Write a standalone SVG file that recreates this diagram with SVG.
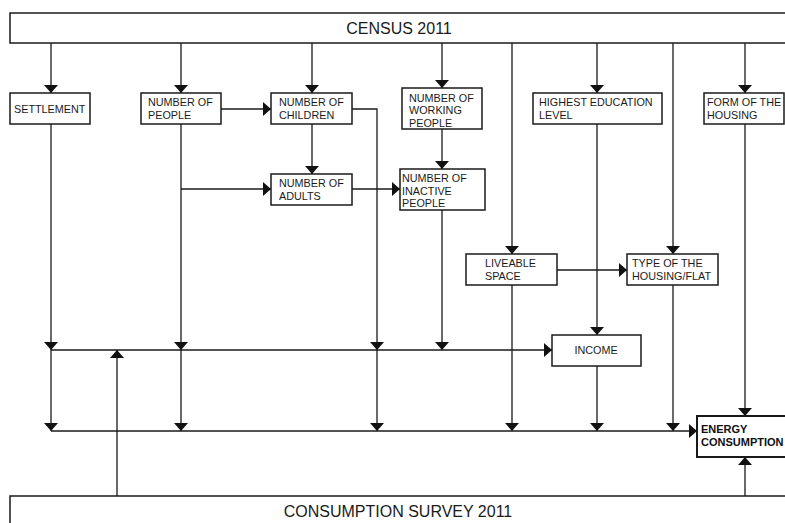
<svg xmlns="http://www.w3.org/2000/svg" width="785" height="523" viewBox="0 0 785 523">
<style>
.box{fill:#fff;stroke:#1a1a1a;stroke-width:1.5}
.bold{stroke-width:2}
.t{font-family:"Liberation Sans",Arial,sans-serif;font-size:10.8px;fill:#1a1a1a}
.tb{font-family:"Liberation Sans",Arial,sans-serif;font-size:11px;font-weight:bold;fill:#111}
.big{font-family:"Liberation Sans",Arial,sans-serif;font-size:16px;fill:#1a1a1a;text-anchor:middle}
.c{fill:none;stroke:#1a1a1a;stroke-width:1.3}
</style>
<defs>
<marker id="a" viewBox="0 0 8 14" refX="8" refY="7" markerWidth="8" markerHeight="14" markerUnits="userSpaceOnUse" orient="auto">
<path d="M0,0L8,7L0,14z" fill="#111"/>
</marker>
</defs>
<rect width="785" height="523" fill="#fff"/>
<g id="connectors">
<path class="c" d="M51,43V93" marker-end="url(#a)"/>
<path class="c" d="M181,43V93" marker-end="url(#a)"/>
<path class="c" d="M312,43V93" marker-end="url(#a)"/>
<path class="c" d="M442,43V88" marker-end="url(#a)"/>
<path class="c" d="M512,43V254" marker-end="url(#a)"/>
<path class="c" d="M597,43V93" marker-end="url(#a)"/>
<path class="c" d="M673,43V254" marker-end="url(#a)"/>
<path class="c" d="M745,43V93" marker-end="url(#a)"/>
<path class="c" d="M221,109H271" marker-end="url(#a)"/>
<path class="c" d="M312,124V174" marker-end="url(#a)"/>
<path class="c" d="M181,124V350" marker-end="url(#a)"/>
<path class="c" d="M181,350V431" marker-end="url(#a)"/>
<path class="c" d="M181,189H271" marker-end="url(#a)"/>
<path class="c" d="M352,189H400" marker-end="url(#a)"/>
<path class="c" d="M442,129V169" marker-end="url(#a)"/>
<path class="c" d="M352,109H377V350" marker-end="url(#a)"/>
<path class="c" d="M377,350V431" marker-end="url(#a)"/>
<path class="c" d="M51,124V350" marker-end="url(#a)"/>
<path class="c" d="M51,350V431" marker-end="url(#a)"/>
<path class="c" d="M442,210V350" marker-end="url(#a)"/>
<path class="c" d="M51,350H552" marker-end="url(#a)"/>
<path class="c" d="M597,124V335" marker-end="url(#a)"/>
<path class="c" d="M557,270H627" marker-end="url(#a)"/>
<path class="c" d="M512,285V431" marker-end="url(#a)"/>
<path class="c" d="M597,366V431" marker-end="url(#a)"/>
<path class="c" d="M673,285V431" marker-end="url(#a)"/>
<path class="c" d="M51,431H697" marker-end="url(#a)"/>
<path class="c" d="M745,124V416" marker-end="url(#a)"/>
<path class="c" d="M117,496V350" marker-end="url(#a)"/>
<path class="c" d="M745,496V457" marker-end="url(#a)"/>
</g>
<g id="census">
<rect class="box" x="10" y="13" width="790" height="30"/>
<text class="big" x="399" y="33.5">CENSUS 2011</text>
</g>
<g id="survey">
<rect class="box" x="10" y="496" width="790" height="40"/>
<text class="big" x="398" y="516.5">CONSUMPTION SURVEY 2011</text>
</g>
<g id="settlement">
<rect class="box" x="10" y="93" width="80" height="31"/>
<text class="t" x="14" y="113">SETTLEMENT</text>
</g>
<g id="people">
<rect class="box" x="141" y="93" width="80" height="31"/>
<text class="t" x="148" y="106">NUMBER OF</text>
<text class="t" x="148" y="119">PEOPLE</text>
</g>
<g id="children">
<rect class="box" x="271" y="93" width="81" height="31"/>
<text class="t" x="279" y="106">NUMBER OF</text>
<text class="t" x="279" y="119">CHILDREN</text>
</g>
<g id="adults">
<rect class="box" x="271" y="174" width="81" height="31"/>
<text class="t" x="279" y="187">NUMBER OF</text>
<text class="t" x="279" y="199.5">ADULTS</text>
</g>
<g id="working">
<rect class="box" x="402" y="88" width="80" height="41"/>
<text class="t" x="409" y="101.5">NUMBER OF</text>
<text class="t" x="409" y="114">WORKING</text>
<text class="t" x="409" y="126.5">PEOPLE</text>
</g>
<g id="inactive">
<rect class="box" x="400" y="169" width="85" height="41"/>
<text class="t" x="402" y="181.5">NUMBER OF</text>
<text class="t" x="402" y="194.5">INACTIVE</text>
<text class="t" x="402" y="206.5">PEOPLE</text>
</g>
<g id="education">
<rect class="box" x="533" y="93" width="129" height="31"/>
<text class="t" x="539" y="106">HIGHEST EDUCATION</text>
<text class="t" x="539" y="119">LEVEL</text>
</g>
<g id="form">
<rect class="box" x="704" y="93" width="80" height="31"/>
<text class="t" x="707" y="106">FORM OF THE</text>
<text class="t" x="707" y="119">HOUSING</text>
</g>
<g id="liveable">
<rect class="box" x="466" y="254" width="91" height="31"/>
<text class="t" x="485" y="267">LIVEABLE</text>
<text class="t" x="485" y="280">SPACE</text>
</g>
<g id="type">
<rect class="box" x="627" y="254" width="91" height="31"/>
<text class="t" x="632" y="267">TYPE OF THE</text>
<text class="t" x="632" y="280">HOUSING/FLAT</text>
</g>
<g id="income">
<rect class="box" x="552" y="335" width="89" height="31"/>
<text class="t" x="596" y="354" text-anchor="middle">INCOME</text>
</g>
<g id="energy">
<rect class="box bold" x="697" y="416" width="100" height="41"/>
<text class="tb" x="701" y="433">ENERGY</text>
<text class="tb" x="701" y="446">CONSUMPTION</text>
</g>
</svg>
